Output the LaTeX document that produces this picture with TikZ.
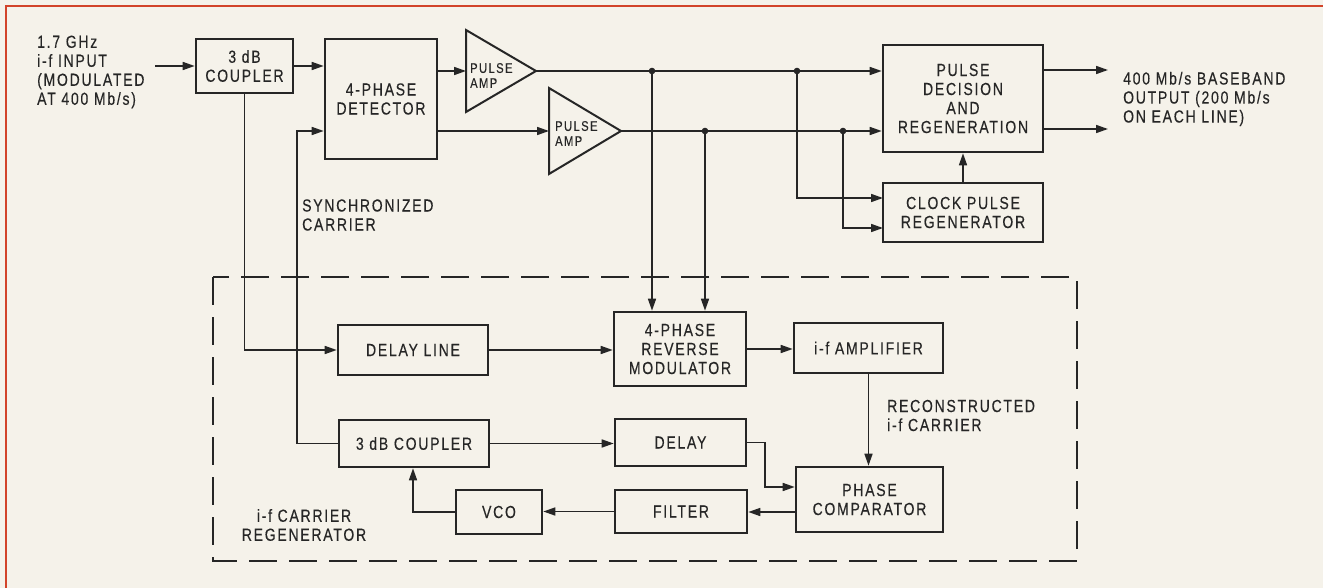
\documentclass[tikz,border=0pt]{standalone}
\usepackage{fontspec}
\setmainfont{Liberation Sans}[FakeStretch=0.8,LetterSpace=10,FakeBold=0.3]
\usetikzlibrary{arrows.meta}
\definecolor{paper}{HTML}{F5F2EA}
\definecolor{ink}{HTML}{262626}
\definecolor{redline}{HTML}{D2442A}
\begin{document}
\begin{tikzpicture}[x=1pt,y=-1pt,
  every node/.style={text=ink},
  lbl/.style={font=\fontsize{17.5}{19}\selectfont, inner sep=0pt},
  smalllbl/.style={font=\fontsize{14}{15}\selectfont, inner sep=0pt, align=left, anchor=west},
  blk/.style={draw=ink, line width=2.6pt, inner sep=0pt, align=center, font=\fontsize{17.5}{19}\selectfont},
  conn/.style={draw=ink, line width=1.6pt},
  arr/.style={conn, -{Triangle[length=12pt,width=8pt]}},
  amptri/.style={draw=ink, line width=2pt, line join=miter},
  dashbox/.style={draw=ink, line width=2.5pt, dash pattern=on 28pt off 12pt}
]
\useasboundingbox (0,0) rectangle (1323,588);
\fill[paper] (0,0) rectangle (1323,588);
\draw[redline, line width=2.8pt] (6,588) -- (6,6) -- (1323,6);

% dashed carrier regenerator
\draw[dashbox] (213,277) rectangle (1077,561);

% blocks
\node[blk, minimum width=97pt, minimum height=54pt] (cpl1) at (244.5,66) {3 dB\\COUPLER};
\node[blk, minimum width=112pt, minimum height=120pt] (det) at (381,99) {4-PHASE\\DETECTOR};
\node[blk, minimum width=160pt, minimum height=107pt] (dec) at (963,98.5) {PULSE\\DECISION\\AND\\REGENERATION};
\node[blk, minimum width=160pt, minimum height=59pt] (clk) at (963,212.5) {CLOCK PULSE\\REGENERATOR};
\node[blk, minimum width=150pt, minimum height=50pt] (dline) at (413,350) {DELAY LINE};
\node[blk, minimum width=150pt, minimum height=47pt] (cpl2) at (414,443.5) {3 dB COUPLER};
\node[blk, minimum width=86pt, minimum height=44pt] (vco) at (499,512) {VCO};
\node[blk, minimum width=132pt, minimum height=74pt] (mod) at (680,349) {4-PHASE\\REVERSE\\MODULATOR};
\node[blk, minimum width=131pt, minimum height=47pt] (delay) at (680.5,442.5) {DELAY};
\node[blk, minimum width=132pt, minimum height=43pt] (filter) at (681,511.5) {FILTER};
\node[blk, minimum width=149pt, minimum height=50pt] (ifamp) at (868.5,348) {i-f AMPLIFIER};
\node[blk, minimum width=147pt, minimum height=65pt] (comp) at (869.5,499.5) {PHASE\\COMPARATOR};

% pulse amplifiers
\coordinate (a1in) at (466,71);
\coordinate (a1o) at (536,71);
\draw[amptri] (466,30) -- (a1o) -- (466,112) -- cycle;
\node[smalllbl] (a1) at (470,75.5) {PULSE\\AMP};
\coordinate (a2in) at (549,131);
\coordinate (a2o) at (621,131);
\draw[amptri] (549,88) -- (a2o) -- (549,174) -- cycle;
\node[smalllbl] (a2) at (555,133.5) {PULSE\\AMP};

% text labels
\node[lbl, align=left, anchor=west] (inlbl) at (37,72) {1.7 GHz\\i-f INPUT\\(MODULATED\\AT 400 Mb/s)};
\node[lbl, align=left, anchor=west] (outlbl) at (1123,99) {400 Mb/s BASEBAND\\OUTPUT (200 Mb/s\\ON EACH LINE)};
\node[lbl, align=left, anchor=west] (synlbl) at (302,215) {SYNCHRONIZED\\CARRIER};
\node[lbl, align=left, anchor=west] (reclbl) at (887,415.5) {RECONSTRUCTED\\i-f CARRIER};
\node[lbl, align=center] (reglbl) at (304,525) {i-f CARRIER\\REGENERATOR};

% connectors
\coordinate (in) at (155,66);
\draw[arr] (in) -- (in -| cpl1.west);
\draw[arr] (cpl1.east) -- (cpl1.east -| det.west);
\draw[arr] (cpl1.south) |- (dline.west);
\coordinate (sy) at (297,131);
\draw[arr] (cpl2.west) -| (sy) -- (sy -| det.west);
\draw[arr] (det.east |- a1in) -- (a1in);
\draw[arr] (det.east |- a2in) -- (a2in);
\draw[arr] (a1o) -- (a1o -| dec.west);
\draw[arr] (a2o) -- (a2o -| dec.west);

\coordinate (j1) at (652,71);
\coordinate (j2) at (797,71);
\coordinate (j3) at (705,131);
\coordinate (j4) at (843,131);
\coordinate (ck1) at (883,198);
\coordinate (ck2) at (883,228);
\draw[arr] (j1) -- (j1 |- mod.north);
\draw[arr] (j3) -- (j3 |- mod.north);
\draw[arr] (j2) |- (ck1);
\draw[arr] (j4) |- (ck2);
\foreach \j in {j1,j2,j3,j4} \fill[ink] (\j) circle (3.3pt);
\draw[arr] (clk.north) -- (dec.south);

\coordinate (o1) at (1108,70);
\coordinate (o2) at (1108,129);
\draw[arr] (o1 -| dec.east) -- (o1);
\draw[arr] (o2 -| dec.east) -- (o2);

\draw[arr] (dline.east) -- (dline.east -| mod.west);
\draw[arr] (mod.east) -- (mod.east -| ifamp.west);
\draw[arr] (ifamp.south) -- (ifamp.south |- comp.north);
\draw[arr] (cpl2.east) -- (cpl2.east -| delay.west);
\coordinate (dl) at (765,487);
\draw[arr] (delay.east) -| (dl) -- (dl -| comp.west);
\coordinate (fl) at (796,512);
\draw[arr] (fl) -- (fl -| filter.east);
\draw[arr] (filter.west) -- (filter.west -| vco.east);
\coordinate (vc) at (413,512);
\draw[arr] (vco.west) -- (vc) -- (vc |- cpl2.south);
\end{tikzpicture}
\end{document}
